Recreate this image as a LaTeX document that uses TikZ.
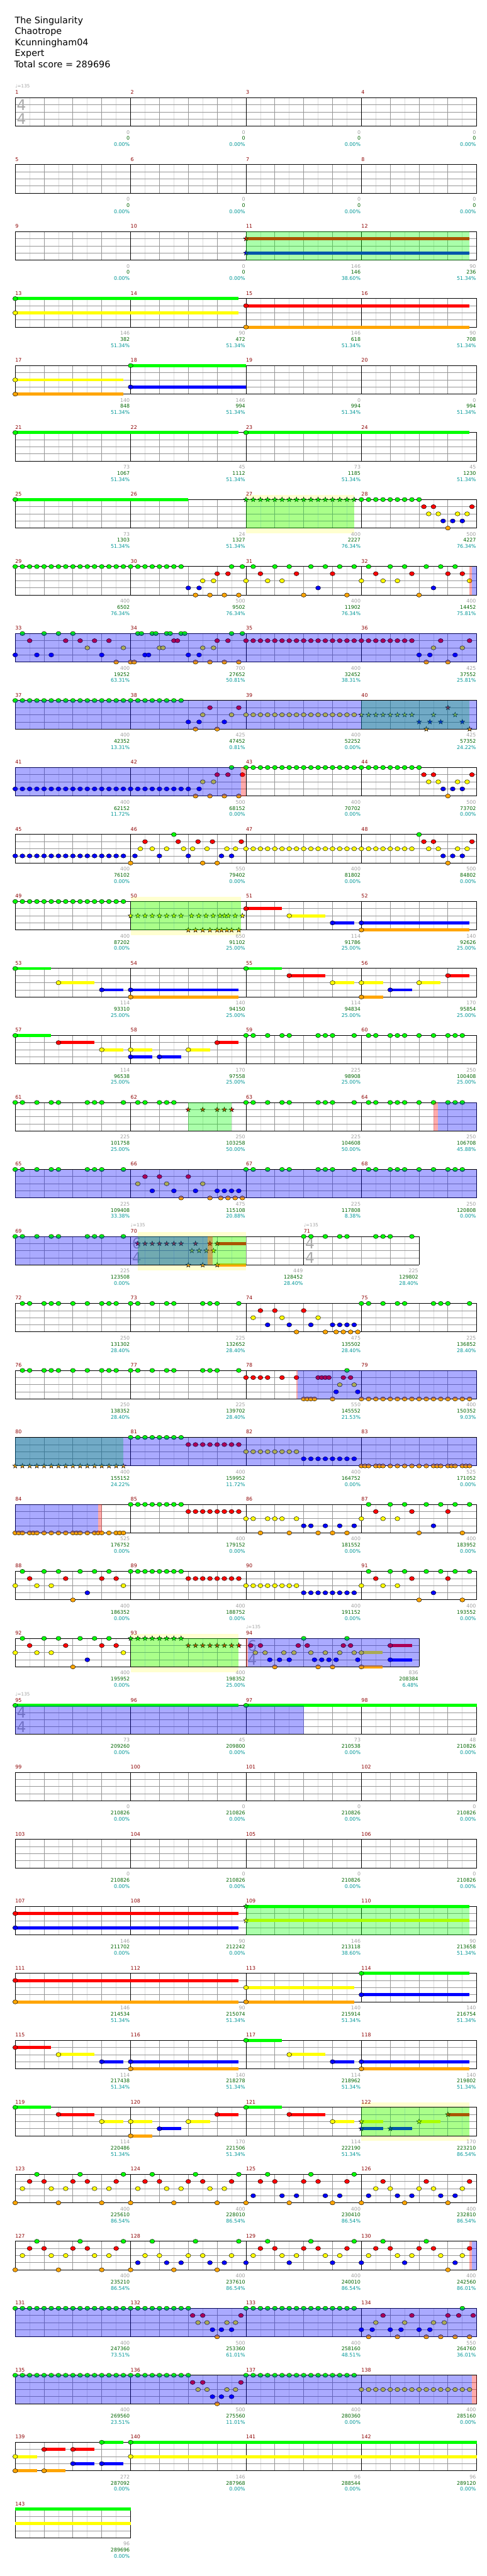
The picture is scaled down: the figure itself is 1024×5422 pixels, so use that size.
\documentclass[tikz,border=0pt]{standalone}
\usepackage{fontspec}
\setmainfont{DejaVu Sans}
\usepackage{tikz}
\usetikzlibrary{positioning}
\usepackage{xcolor}

\definecolor{lane0}{RGB}{0,255,0}
\definecolor{lane1}{RGB}{255,0,0}
\definecolor{lane2}{RGB}{255,255,0}
\definecolor{lane3}{RGB}{0,0,255}
\definecolor{lane4}{RGB}{255,165,0}
\definecolor{measred}{RGB}{140,0,0}
\definecolor{ptgray}{RGB}{160,160,160}
\definecolor{pttotal}{RGB}{0,100,0}
\definecolor{ptpct}{RGB}{0,150,150}
\definecolor{metergray}{RGB}{170,170,170}
\definecolor{glowyellow}{RGB}{255,255,208}
\definecolor{gridlight}{RGB}{220,220,220}
\definecolor{gridmid}{RGB}{150,150,150}

% staff of one row: end position, list start/measure
\newcommand{\staffgrid}[2]{%
  \foreach \x in {4,12,...,#1} \draw[gridminor] (\x,0) -- (\x,60);
  \foreach \x in {8,16,...,#1} \draw[gridbeat] (\x,0) -- (\x,60);
  \foreach \y in {15,30,45} \draw[gridbeat] (0,\y) -- (#1,\y);
  \foreach \s/\m in {#2} {\draw[gridbar] (\s,0) -- (\s,60);
    \node[measnum] (bar\m) at (\s,-7.5) {\m};}
  \draw[staffrim] (0,0) -- (#1,0) (0,60) -- (#1,60) (#1,0) -- (#1,60);}
% notes
\newcommand{\gem}[2]{\filldraw[gem, fill=lane#2] (#1,#2*15) ellipse [x radius=5.2pt, y radius=4.4pt];}
\newcommand{\gems}[2]{\foreach \t in {#2} {\gem{\t}{#1}}}
\newcommand{\spgem}[2]{\filldraw[gem, fill=lane#2, shift={(#1,#2*15)}] (90:5.4pt) -- (126:2.2pt) -- (162:5.4pt) -- (198:2.2pt) -- (234:5.4pt) -- (270:2.2pt) -- (306:5.4pt) -- (342:2.2pt) -- (18:5.4pt) -- (54:2.2pt) -- cycle;}
\newcommand{\spgems}[2]{\foreach \t in {#2} {\spgem{\t}{#1}}}
\newcommand{\holds}[1]{\foreach \l/\a/\b in {#1} {\draw[sustain, draw=lane\l] (\a,\l*15) -- (\b,\l*15); \gem{\a}{\l}}}
\newcommand{\spholds}[1]{\foreach \l/\a/\b in {#1} {\draw[sustain, draw=lane\l] (\a,\l*15) -- (\b,\l*15); \spgem{\a}{\l}}}
% shaded parts
\newcommand{\zone}[3]{\fill[#1] (#2,0) rectangle (#3,60);}
\newcommand{\glow}[2]{\fill[spglow] (#1,-10) rectangle (#2,71);}
% texts
\newcommand{\scores}[2]{\foreach \e/\a/\b/\c in {#2} {
    \node[ptsgray] (pg#1-\e) at (\e,76.5) {\a};
    \node[ptstotal] (pt#1-\e) at (\e,89.5) {\b};
    \node[ptspct] (pp#1-\e) at (\e,102.5) {\c\%};}}
\newcommand{\tempo}[2]{\node[bpm] (bpm#1) at (#2,-20.5) {♩=135};}
\newcommand{\timesig}[3]{\node[meter] (ts#1u) at (#2,15) {#3}; \node[meter] (ts#1l) at (#2,45) {4};}

\begin{document}
\begin{tikzpicture}[
    x=1pt, y=-1pt,
    chartrow/.style={shift={(32,205.5+141*#1)}, x=7.586pt},
    headline/.style={anchor=base west, inner sep=0pt, font=\fontsize{19}{23}\selectfont},
    measnum/.style={anchor=base west, inner sep=0pt, text=measred, font=\fontsize{10.5}{12}\selectfont},
    ptsgray/.style={anchor=base east, inner sep=0pt, xshift=-1.5pt, text=ptgray, font=\fontsize{10.5}{12}\selectfont},
    ptstotal/.style={ptsgray, text=pttotal},
    ptspct/.style={ptsgray, text=ptpct},
    bpm/.style={anchor=base west, inner sep=0pt, text=ptgray, font=\fontsize{9.5}{11}\selectfont},
    meter/.style={inner sep=0pt, xshift=13pt, text=metergray, font=\fontsize{31}{31}\selectfont},
    gridminor/.style={draw=gridlight, line width=0.8pt},
    gridbeat/.style={draw=gridmid, line width=1pt},
    gridbar/.style={draw=black, line width=0.9pt},
    staffrim/.style={draw=black, line width=1.3pt},
    gem/.style={draw=black, line width=0.6pt},
    sustain/.style={line width=6.5pt},
    spglow/.style={fill=glowyellow},
    spzone/.style={fill=green, fill opacity=0.333},
    spactive/.style={fill=blue, fill opacity=0.333},
    whammy/.style={fill=red, fill opacity=0.333}
]
\useasboundingbox (0,0) rectangle (1024,5422);

% Song header
\node[headline] (song) at (31,49.3) {The Singularity};
\node[headline] (artist) at (31,72.4) {Chaotrope};
\node[headline] (charter) at (31,95.5) {Kcunningham04};
\node[headline] (level) at (31,118.6) {Expert};
\node[headline] (total) at (30,141.7) {Total score = 289696};

% Measures 1-4
\begin{scope}[chartrow=0]
  \staffgrid{128}{0/1,32/2,64/3,96/4}
  \timesig{1}{0}{4}
  \tempo{1}{0}
  \scores{0}{32/0/0/0.00,64/0/0/0.00,96/0/0/0.00,128/0/0/0.00}
\end{scope}

% Measures 5-8
\begin{scope}[chartrow=1]
  \staffgrid{128}{0/5,32/6,64/7,96/8}
  \scores{1}{32/0/0/0.00,64/0/0/0.00,96/0/0/0.00,128/0/0/0.00}
\end{scope}

% Measures 9-12
\begin{scope}[chartrow=2]
  \staffgrid{128}{0/9,32/10,64/11,96/12}
  \spholds{1/64/126,3/64/126}
  \zone{spzone}{64}{126}
  \scores{2}{32/0/0/0.00,64/0/0/0.00,96/146/146/38.60,128/90/236/51.34}
\end{scope}

% Measures 13-16
\begin{scope}[chartrow=3]
  \staffgrid{128}{0/13,32/14,64/15,96/16}
  \holds{0/0/62,2/0/62,1/64/126,4/64/126}
  \scores{3}{32/146/382/51.34,64/90/472/51.34,96/146/618/51.34,128/90/708/51.34}
\end{scope}

% Measures 17-20
\begin{scope}[chartrow=4]
  \staffgrid{128}{0/17,32/18,64/19,96/20}
  \holds{2/0/30,4/0/30,0/32/64,3/32/64}
  \scores{4}{32/140/848/51.34,64/146/994/51.34,96/0/994/51.34,128/0/994/51.34}
\end{scope}

% Measures 21-24
\begin{scope}[chartrow=5]
  \staffgrid{128}{0/21,32/22,64/23,96/24}
  \holds{0/0/62,0/64/126}
  \scores{5}{32/73/1067/51.34,64/45/1112/51.34,96/73/1185/51.34,128/45/1230/51.34}
\end{scope}

% Measures 25-28
\begin{scope}[chartrow=6]
  \glow{64}{94}
  \staffgrid{128}{0/25,32/26,64/27,96/28}
  \holds{0/0/48}
  \spgems{0}{64,66,...,94}
  \gems{0}{96,98,...,112}
  \gems{1}{113.33,116,126.67}
  \gems{2}{114.67,117.33,122.67,125.33}
  \gems{3}{118.67,121.33,124}
  \gems{4}{120}
  \zone{spzone}{64}{94}
  \scores{6}{32/73/1303/51.34,64/24/1327/51.34,96/400/2227/76.34,128/500/4227/76.34}
\end{scope}

% Measures 29-32
\begin{scope}[chartrow=7]
  \staffgrid{128}{0/29,32/30,64/31,96/32}
  \gems{0}{0,2,...,46}
  \gems{0}{60,63,66,72,76,82,86,90,94,98,104,108,114,118,122}
  \gems{1}{56,59,68,78,88,100,110,120,124}
  \gems{2}{52,55,64,70,74,96,102,106,126}
  \gems{3}{48,51,84,116}
  \gems{4}{50,54,58,62,80,92,112}
  \zone{whammy}{126}{126.7}
  \zone{spactive}{126.7}{128}
  \scores{7}{32/400/6502/76.34,64/500/9502/76.34,96/400/11902/76.34,128/400/14452/75.81}
\end{scope}

% Measures 33-36
\begin{scope}[chartrow=8]
  \staffgrid{128}{0/33,32/34,64/35,96/36}
  \gems{0}{2,8,12,16,34,35,38,39,42,43,46,47,60,63}
  \gems{1}{4,14,18,22,26,44,45,56,59,118,126}
  \gems{1}{64,66,...,110}
  \gems{2}{20,30,40,41,52,55,116,124}
  \gems{3}{0,6,10,24,36,37,48,51,112,115,122}
  \gems{4}{28,32,33,50,54,58,62,114,120}
  \zone{spactive}{0}{128}
  \scores{8}{32/400/19252/63.31,64/700/27652/50.81,96/400/32452/38.31,128/425/37552/25.81}
\end{scope}

% Measures 37-40
\begin{scope}[chartrow=9]
  \staffgrid{128}{0/37,32/38,64/39,96/40}
  \gems{0}{0,2,...,46}
  \gems{1}{54,62}
  \spgems{1}{120}
  \gems{2}{52,60}
  \gems{2}{64,66,...,94}
  \spgems{2}{96,98,...,110}
  \spgems{2}{116,122}
  \gems{3}{48,51,58}
  \spgems{3}{112,115,118,124}
  \gems{4}{50,56}
  \spgems{4}{114,126}
  \zone{spzone}{96}{126}
  \zone{spactive}{0}{128}
  \scores{9}{32/400/42352/13.31,64/425/47452/0.81,96/400/52252/0.00,128/425/57352/24.22}
\end{scope}

% Measures 41-44
\begin{scope}[chartrow=10]
  \staffgrid{128}{0/41,32/42,64/43,96/44}
  \gems{0}{60}
  \gems{0}{64,66,...,112}
  \gems{1}{56,59,63,113.33,116,126.67}
  \gems{2}{52,55,114.67,117.33,122.67,125.33}
  \gems{3}{0,2,...,48}
  \gems{3}{51,118.67,121.33,124}
  \gems{4}{50,54,58,62,120}
  \zone{spactive}{0}{62.7}
  \zone{whammy}{62.7}{64}
  \scores{10}{32/400/62152/11.72,64/500/68152/0.00,96/400/70702/0.00,128/500/73702/0.00}
\end{scope}

% Measures 45-48
\begin{scope}[chartrow=11]
  \staffgrid{128}{0/45,32/46,64/47,96/48}
  \gems{3}{0,2,...,30}
  \gems{3}{33.2,40,48,57.2,60,118.67,121.33,124}
  \gems{4}{32,52,56,120}
  \gems{1}{36,45.2,50.7,54.7,62.7,113.33,116,126.67}
  \gems{2}{34.7,38,42,46.7,49.2,53.2,58.7,61.1,114.67,117.33,122.67,125.33}
  \gems{2}{64,66,...,110}
  \gems{0}{44,112}
  \scores{11}{32/400/76102/0.00,64/550/79402/0.00,96/400/81802/0.00,128/500/84802/0.00}
\end{scope}

% Measures 49-52
\begin{scope}[chartrow=12]
  \glow{32}{62.7}
  \staffgrid{128}{0/49,32/50,64/51,96/52}
  \gems{0}{0,2,...,30}
  \spgems{2}{32,34,...,46}
  \spgems{2}{48.9,50.9,52.9,54.9,56.8,58,59.1,61,63}
  \spgems{4}{48,50,52,54,56,57.2,58.7,60,62}
  \holds{1/64/74,2/76/86,3/88/94,3/96/126,4/96/126}
  \zone{spzone}{32}{62.7}
  \scores{12}{32/400/87202/0.00,64/650/91102/25.00,96/114/91786/25.00,128/140/92626/25.00}
\end{scope}

% Measures 53-56
\begin{scope}[chartrow=13]
  \staffgrid{128}{0/53,32/54,64/55,96/56}
  \holds{0/0/10,2/12/22,3/24/30,3/32/62,4/32/62,0/64/74,1/76/86,2/88/94,2/96/102,4/96/102,3/104/110,2/112/118,1/120/126}
  \scores{13}{32/114/93310/25.00,64/140/94150/25.00,96/114/94834/25.00,128/170/95854/25.00}
\end{scope}

% Measures 57-60
\begin{scope}[chartrow=14]
  \staffgrid{128}{0/57,32/58,64/59,96/60}
  \holds{0/0/10,1/12/22,2/24/30,2/32/38,3/32/38,3/40/46,2/48/54,1/56/62}
  \gems{0}{64,66,70,74,76,84,86,88,94,98,100,104,106,108,112,116,120,122,124}
  \scores{14}{32/114/96538/25.00,64/170/97558/25.00,96/225/98908/25.00,128/250/100408/25.00}
\end{scope}

% Measures 61-64
\begin{scope}[chartrow=15]
  \staffgrid{128}{0/61,32/62,64/63,96/64}
  \gems{0}{0,2,6,10,12,20,22,24,30,34,36,40,42,44}
  \gems{0}{64,66,70,74,76,84,86,88,94,98,100,104,106,108,112,116,120,122,124}
  \spgems{1}{48,52,56,58,60}
  \zone{spzone}{48}{60}
  \zone{whammy}{116}{117.3}
  \zone{spactive}{117.3}{128}
  \scores{15}{32/225/101758/25.00,64/250/103258/50.00,96/225/104608/50.00,128/250/106708/45.88}
\end{scope}

% Measures 65-68
\begin{scope}[chartrow=16]
  \staffgrid{128}{0/65,32/66,64/67,96/68}
  \gems{0}{0,2,6,10,12,20,22,24,30,64,66,70,74,76,84,86,88,94}
  \gems{0}{98,100,104,106,108,112,116,120,122,124}
  \gems{1}{36,40,48}
  \gems{2}{34,42,52}
  \gems{3}{38,44,50,56,58,60,62}
  \gems{4}{46,54,57,59,61,63}
  \zone{spactive}{0}{128}
  \scores{16}{32/225/109408/33.38,64/475/115108/20.88,96/225/117808/8.38,128/250/120808/0.00}
\end{scope}

% Measures 69-71
\begin{scope}[chartrow=17]
  \glow{34}{64}
  \staffgrid{112}{0/69,32/70,80/71}
  \timesig{70}{32}{6}
  \timesig{71}{80}{4}
  \tempo{70}{32}
  \tempo{71}{80}
  \gems{0}{0,2,6,10,12,20,22,24,30,80,82,86,90,92,100,102,104,110}
  \spgems{1}{34,36,38,40,42,44,46,50,54}
  \spgems{2}{49,51,53,55}
  \spgems{4}{48,52}
  \spholds{1/56/64,4/56/64}
  \zone{spzone}{34}{64}
  \zone{spactive}{0}{53.4}
  \zone{whammy}{53.4}{54.8}
  \scores{17}{32/225/123508/0.00,80/449/128452/28.40,112/225/129802/28.40}
\end{scope}

% Measures 72-75
\begin{scope}[chartrow=18]
  \staffgrid{128}{0/72,32/73,64/74,96/75}
  \gems{0}{2,4,8,10,12,16,20,24,26,28,32,34,38,42,44,52,54,56,62}
  \gems{0}{96,98,102,106,108,116,118,120,126}
  \gems{1}{68,72,80}
  \gems{2}{66,74,84}
  \gems{3}{70,76,82,88,90,92,94}
  \gems{4}{78,86,89,91,93,95}
  \scores{18}{32/250/131302/28.40,64/225/132652/28.40,96/475/135502/28.40,128/225/136852/28.40}
\end{scope}

% Measures 76-79
\begin{scope}[chartrow=19]
  \staffgrid{128}{0/76,32/77,64/78,96/79}
  \gems{0}{2,4,8,10,12,16,20,24,26,28,32,34,38,42,44,52,54,56,62,92}
  \gems{1}{64,66,68,70,74,78,84,85,86,87,91,93}
  \gems{2}{90,94}
  \gems{3}{89,95}
  \gems{4}{80,81,82,83,88}
  \gems{4}{96,98,...,126}
  \zone{whammy}{78}{78.3}
  \zone{spactive}{78.3}{128}
  \scores{19}{32/250/138352/28.40,64/225/139702/28.40,96/550/145552/21.53,128/400/150352/9.03}
\end{scope}

% Measures 80-83
\begin{scope}[chartrow=20]
  \staffgrid{128}{0/80,32/81,64/82,96/83}
  \spgems{4}{0,2,...,30}
  \gems{0}{32,34,...,46}
  \gems{1}{48,50,...,62}
  \gems{2}{64,66,...,78}
  \gems{3}{80,82,...,94}
  \gems{4}{96,97,98,100,101,102,104,106,108,110,112,114,116,117,118,120,121,122,124,125,126}
  \zone{spzone}{0}{30}
  \zone{spactive}{0}{128}
  \scores{20}{32/400/155152/24.22,64/400/159952/11.72,96/400/164752/0.00,128/525/171052/0.00}
\end{scope}

% Measures 84-87
\begin{scope}[chartrow=21]
  \staffgrid{128}{0/84,32/85,64/86,96/87}
  \gems{4}{0,1,2,4,5,6,8,10,12,14,16,17,18,20,22,23,24,26,28,29,30,68,76,84,88,92,112,124}
  \gems{0}{32,34,...,46}
  \gems{0}{98,104,108,114,118,122,126}
  \gems{1}{48,50,...,62}
  \gems{1}{100,110,120}
  \gems{2}{64,66,70,72,74,78,96,102,106}
  \gems{3}{80,82,86,90,94,116}
  \zone{spactive}{0}{23}
  \zone{whammy}{23}{24}
  \scores{21}{32/525/176752/0.00,64/400/179152/0.00,96/400/181552/0.00,128/400/183952/0.00}
\end{scope}

% Measures 88-91
\begin{scope}[chartrow=22]
  \staffgrid{128}{0/88,32/89,64/90,96/91}
  \gems{0}{2,8,12,18,22,26,98,104,108,114,118,122,126}
  \gems{0}{32,34,...,46}
  \gems{1}{4,14,24,28,100,110,120}
  \gems{1}{48,50,...,62}
  \gems{2}{0,6,10,30,96,102,106}
  \gems{2}{64,66,...,78}
  \gems{3}{20,116}
  \gems{3}{80,82,...,94}
  \gems{4}{16,112,124}
  \scores{22}{32/400/186352/0.00,64/400/188752/0.00,96/400/191152/0.00,128/400/193552/0.00}
\end{scope}

% Measures 92-94
\begin{scope}[chartrow=23]
  \glow{32}{62}
  \staffgrid{112}{0/92,32/93,64/94}
  \timesig{94}{64}{6}
  \tempo{94}{64}
  \gems{0}{2,8,12,18,22,26,80,92}
  \gems{1}{4,14,24,28,65.3,68,78.5,81,91,93}
  \gems{2}{0,6,10,30,66.6,69.3,74.5,77.3,82,86,90,94}
  \gems{3}{20,70.6,73.3,76,83,85,87,89,95}
  \gems{4}{16,72,84,88}
  \spgems{0}{32,34,...,46}
  \spgems{1}{48,50,...,62}
  \holds{1/104/110,2/96/101.8,3/104/110,4/96/101.8}
  \zone{spzone}{32}{62}
  \zone{whammy}{64}{64.6}
  \zone{spactive}{64.6}{112}
  \scores{23}{32/400/195952/0.00,64/400/198352/25.00,112/836/208384/6.48}
\end{scope}

% Measures 95-98
\begin{scope}[chartrow=24]
  \staffgrid{128}{0/95,32/96,64/97,96/98}
  \timesig{95}{0}{4}
  \tempo{95}{0}
  \holds{0/0/62,0/64/128}
  \zone{spactive}{0}{80}
  \scores{24}{32/73/209260/0.00,64/45/209800/0.00,96/73/210538/0.00,128/48/210826/0.00}
\end{scope}

% Measures 99-102
\begin{scope}[chartrow=25]
  \staffgrid{128}{0/99,32/100,64/101,96/102}
  \scores{25}{32/0/210826/0.00,64/0/210826/0.00,96/0/210826/0.00,128/0/210826/0.00}
\end{scope}

% Measures 103-106
\begin{scope}[chartrow=26]
  \staffgrid{128}{0/103,32/104,64/105,96/106}
  \scores{26}{32/0/210826/0.00,64/0/210826/0.00,96/0/210826/0.00,128/0/210826/0.00}
\end{scope}

% Measures 107-110
\begin{scope}[chartrow=27]
  \staffgrid{128}{0/107,32/108,64/109,96/110}
  \holds{1/0/62,3/0/62}
  \spholds{0/64/126,2/64/126}
  \zone{spzone}{64}{126}
  \scores{27}{32/146/211702/0.00,64/90/212242/0.00,96/146/213118/38.60,128/90/213658/51.34}
\end{scope}

% Measures 111-114
\begin{scope}[chartrow=28]
  \staffgrid{128}{0/111,32/112,64/113,96/114}
  \holds{1/0/62,4/0/62,2/64/94,4/64/94,0/96/126,3/96/126}
  \scores{28}{32/146/214534/51.34,64/90/215074/51.34,96/140/215914/51.34,128/140/216754/51.34}
\end{scope}

% Measures 115-118
\begin{scope}[chartrow=29]
  \staffgrid{128}{0/115,32/116,64/117,96/118}
  \holds{1/0/10,2/12/22,3/24/30,3/32/62,4/32/62,0/64/74,2/76/86,3/88/94,3/96/126,4/96/126}
  \scores{29}{32/114/217438/51.34,64/140/218278/51.34,96/114/218962/51.34,128/140/219802/51.34}
\end{scope}

% Measures 119-122
\begin{scope}[chartrow=30]
  \glow{96}{126}
  \staffgrid{128}{0/119,32/120,64/121,96/122}
  \holds{0/0/10,1/12/22,2/24/30,2/32/38,4/32/38,3/40/46,2/48/54,1/56/62,0/64/74,1/76/86,2/88/94}
  \spholds{2/96/102,3/96/102,3/104/110,2/112/118,1/120/126}
  \zone{spzone}{96}{126}
  \scores{30}{32/114/220486/51.34,64/170/221506/51.34,96/114/222190/51.34,128/170/223210/86.54}
\end{scope}

% Measures 123-126
\begin{scope}[chartrow=31]
  \staffgrid{128}{0/123,32/124,64/125,96/126}
  \gems{0}{6,18,30,38,50,62,70,82,94}
  \gems{1}{4,8,16,20,28,36,40,48,52,60,68,72,80,84,92,102,114,126}
  \gems{2}{2,10,14,22,26,34,42,46,54,58,100,104,112,116,124}
  \gems{3}{66,74,78,86,90,98,106,110,118,122}
  \gems{4}{0,12,24,32,44,56,64,76,88,96,108,120}
  \scores{31}{32/400/225610/86.54,64/400/228010/86.54,96/400/230410/86.54,128/400/232810/86.54}
\end{scope}

% Measures 127-130
\begin{scope}[chartrow=32]
  \staffgrid{128}{0/127,32/128,64/129,96/130}
  \gems{0}{6,18,30,38,50,62,70,82,94,102,114}
  \gems{1}{4,8,16,20,28,68,72,80,84,92,100,104,112,116,126}
  \gems{2}{2,10,14,22,26,36,40,48,52,60,66,74,78,86,90,98,106,110,118,124}
  \gems{3}{34,42,46,54,58,64,76,88,96,108,122}
  \gems{4}{0,12,24,32,44,56,120}
  \zone{whammy}{126}{126.7}
  \zone{spactive}{126.7}{128}
  \scores{32}{32/400/235210/86.54,64/400/237610/86.54,96/400/240010/86.54,128/400/242560/86.01}
\end{scope}

% Measures 131-134
\begin{scope}[chartrow=33]
  \staffgrid{128}{0/131,32/132,64/133,96/134}
  \gems{0}{0,2,...,48}
  \gems{0}{64,66,...,94}
  \gems{0}{124}
  \gems{1}{49.2,52,62.6,102,110,120,123,127}
  \gems{2}{50.7,53.2,58.7,61.1,100,108,116,119}
  \gems{3}{54.7,57.2,60,96,99,104,107,112,115}
  \gems{4}{56,98,106,114,118,122,126}
  \zone{spactive}{0}{128}
  \scores{33}{32/400/247360/73.51,64/500/253360/61.01,96/400/258160/48.51,128/550/264760/36.01}
\end{scope}

% Measures 135-138
\begin{scope}[chartrow=34]
  \staffgrid{128}{0/135,32/136,64/137,96/138}
  \gems{0}{0,2,...,48}
  \gems{0}{64,66,...,94}
  \gems{1}{49.2,52,62.6}
  \gems{2}{50.7,53.2,58.7,61.1}
  \gems{2}{96,98,...,126}
  \gems{3}{54.7,57.2,60}
  \gems{4}{56}
  \zone{spactive}{0}{126.7}
  \zone{whammy}{126.7}{128}
  \scores{34}{32/400/269560/23.51,64/500/275560/11.01,96/400/280360/0.00,128/400/285160/0.00}
\end{scope}

% Measures 139-142
\begin{scope}[chartrow=35]
  \staffgrid{128}{0/139,32/140,64/141,96/142}
  \holds{2/0/6,4/0/6,1/8/14,4/8/14,1/16/22,3/16/22,3/24/30,0/24/30,0/32/128,2/32/128}
  \scores{35}{32/272/287092/0.00,64/146/287968/0.00,96/96/288544/0.00,128/96/289120/0.00}
\end{scope}

% Measure 143
\begin{scope}[chartrow=36]
  \staffgrid{32}{0/143}
  \draw[sustain, draw=lane0] (0,0) -- (32,0);
  \draw[sustain, draw=lane2] (0,30) -- (32,30);
  \scores{36}{32/96/289696/0.00}
\end{scope}

\end{tikzpicture}
\end{document}
